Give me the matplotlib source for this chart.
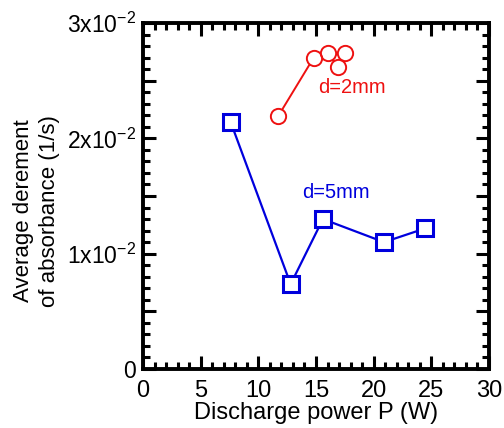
import matplotlib
matplotlib.use('Agg')
import matplotlib.pyplot as plt
from matplotlib.ticker import MultipleLocator, FixedLocator, FixedFormatter

plt.rcParams['font.family'] = ['Liberation Sans', 'DejaVu Sans']
plt.rcParams['mathtext.fontset'] = 'custom'
plt.rcParams['mathtext.rm'] = 'Liberation Sans'
plt.rcParams['mathtext.it'] = 'Liberation Sans:italic'

# d = 5 mm series
power_5mm = [7.6, 12.8, 15.6, 20.9, 24.5]
decr_5mm = [0.0214, 0.00735, 0.0130, 0.0110, 0.0122]

# d = 2 mm series
power_2mm = [11.7, 14.8, 16.0, 16.9, 17.5]
decr_2mm = [0.0219, 0.0270, 0.0274, 0.0262, 0.0274]

ytick_vals = [0, 0.005, 0.01, 0.015, 0.02, 0.025, 0.03]
ytick_labels = ['0', '', r'1x10$^{-2}$', '', r'2x10$^{-2}$', '', r'3x10$^{-2}$']

red = '#ee1111'
blue = '#0000dd'

fig = plt.figure(figsize=(5.04, 4.28), dpi=100)
ax = fig.add_axes([0.284, 0.138, 0.686, 0.808])

# lines first, then white fill to hide line inside markers, then outlines
ax.plot(power_5mm, decr_5mm, color=blue, lw=1.6, zorder=2)
ax.plot(power_5mm, decr_5mm, ls='none', marker='s', ms=12, mfc='white',
        mec='white', mew=0, zorder=3)
ax.plot(power_5mm, decr_5mm, ls='none', marker='s', ms=12, mfc='none',
        mec=blue, mew=2.2, zorder=4)

ax.plot(power_2mm, decr_2mm, color=red, lw=1.4, zorder=2)
ax.plot(power_2mm, decr_2mm, ls='none', marker='o', ms=11, mfc='white',
        mec='white', mew=0, zorder=3)
ax.plot(power_2mm, decr_2mm, ls='none', marker='o', ms=11, mfc='none',
        mec=red, mew=1.4, zorder=4)

ax.text(15.2, 0.0244, 'd=2mm', color=red, fontsize=14.5, ha='left', va='center')
ax.text(13.8, 0.0153, 'd=5mm', color=blue, fontsize=14.5, ha='left', va='center')

ax.set_xlim(0, 30)
ax.set_ylim(0, 0.03)
ax.xaxis.set_major_locator(MultipleLocator(5))
ax.xaxis.set_minor_locator(MultipleLocator(1))
ax.yaxis.set_major_locator(FixedLocator(ytick_vals))
ax.yaxis.set_major_formatter(FixedFormatter(ytick_labels))
ax.yaxis.set_minor_locator(MultipleLocator(0.001))

ax.tick_params(which='both', direction='in', top=True, right=True, width=2.2,
               color='black')
ax.tick_params(which='major', length=9.5)
ax.tick_params(which='minor', length=5)
ax.tick_params(axis='x', labelsize=17, pad=8)
ax.tick_params(axis='y', labelsize=16.5, pad=5)
for sp in ax.spines.values():
    sp.set_linewidth(2.8)

ax.set_xlabel('Discharge power P (W)', fontsize=17)
ax.xaxis.set_label_coords(0.5, -0.097)
ax.set_ylabel('Average derement\nof absorbance (1/s)', fontsize=16,
              linespacing=1.3)
ax.yaxis.set_label_coords(-0.24, 0.457)

fig.savefig('out.png', dpi=100)
